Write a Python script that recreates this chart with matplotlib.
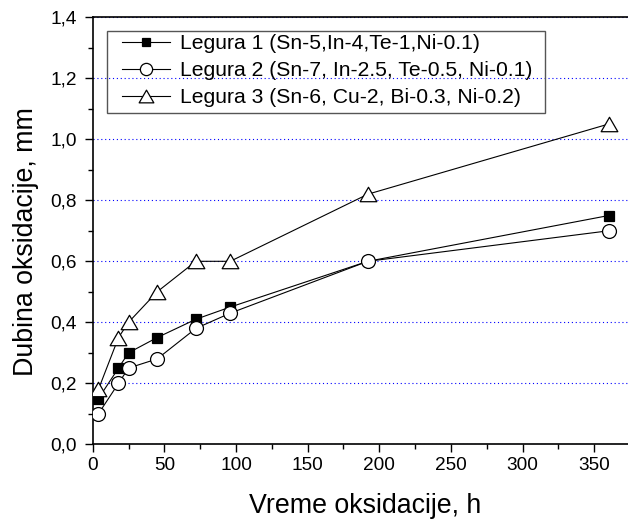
import matplotlib
matplotlib.use("Agg")
import matplotlib.pyplot as plt
from matplotlib.ticker import MultipleLocator, FuncFormatter
from matplotlib.patches import Rectangle
from matplotlib.path import Path

# ---- data ----
time_h = [4, 18, 25, 45, 72, 96, 192, 360]
legura1 = [0.15, 0.25, 0.30, 0.35, 0.41, 0.45, 0.60, 0.75]
legura2 = [0.10, 0.20, 0.25, 0.28, 0.38, 0.43, 0.60, 0.70]
legura3 = [0.18, 0.35, 0.40, 0.50, 0.60, 0.60, 0.82, 1.05]
labels = ["Legura 1 (Sn-5,In-4,Te-1,Ni-0.1)",
          "Legura 2 (Sn-7, In-2.5, Te-0.5, Ni-0.1)",
          "Legura 3 (Sn-6, Cu-2, Bi-0.3, Ni-0.2)"]
xlabel = "Vreme oksidacije, h"
ylabel = "Dubina oksidacije, mm"

plt.rcParams['font.family'] = ['Liberation Sans', 'DejaVu Sans']

W, H = 628, 519
fig = plt.figure(figsize=(W / 100, H / 100), dpi=100)
left_px, right_px, top_px, bot_px = 92.7, 628, 17.3, 444.3
ax = fig.add_axes([left_px / W, 1 - bot_px / H, (right_px - left_px) / W, (bot_px - top_px) / H])

tri = Path([(-1, -0.866), (1, -0.866), (0, 0.866), (-1, -0.866)],
           [Path.MOVETO, Path.LINETO, Path.LINETO, Path.CLOSEPOLY])

lw = 0.8
mew = 0.9
l1, = ax.plot(time_h, legura1, color='black', lw=lw, marker='s', ms=7.2,
              mfc='black', mec='black', mew=mew, zorder=3)
l2, = ax.plot(time_h, legura2, color='black', lw=lw, marker='o', ms=10,
              mfc='white', mec='black', mew=mew, zorder=4)
l3, = ax.plot(time_h, legura3, color='black', lw=lw, marker=tri, ms=12,
              mfc='white', mec='black', mew=mew, zorder=5)

ax.set_xlim(0, (right_px - left_px) / 1.433)
ax.set_ylim(0, 1.4)
ax.xaxis.set_major_locator(MultipleLocator(50))
ax.xaxis.set_minor_locator(MultipleLocator(25))
ax.yaxis.set_major_locator(MultipleLocator(0.2))
ax.yaxis.set_minor_locator(MultipleLocator(0.1))
ax.yaxis.set_major_formatter(FuncFormatter(lambda v, p: f"{v:.1f}".replace('.', ',')))

ax.grid(axis='y', which='major', color='#0000ff', linestyle=(0, (1, 2.5)), lw=0.8, zorder=1)
ax.set_axisbelow(True)

for s in ['left', 'bottom', 'top']:
    ax.spines[s].set_linewidth(1.2)
ax.spines['right'].set_visible(False)

ax.tick_params(axis='both', which='major', direction='out', length=6, width=1.0, labelsize=13.7)
ax.tick_params(axis='both', which='minor', direction='out', length=3.6, width=1.0)
ax.tick_params(axis='x', which='major', pad=3.4)
ax.tick_params(axis='y', which='major', pad=5.5)
ax.tick_params(top=False, right=False, which='both')

ax.set_xlabel(xlabel, fontsize=19.3)
ax.set_ylabel(ylabel, fontsize=19.3)
ax.xaxis.label.set_va('baseline')
ax.yaxis.label.set_va('baseline')
ax.xaxis.set_label_coords((365 - left_px) / (right_px - left_px), (bot_px - 512.7) / (bot_px - top_px))
ax.yaxis.set_label_coords((33.3 - left_px) / (right_px - left_px), (bot_px - 242) / (bot_px - top_px))

# legend
leg = fig.legend([l1, l2, l3], labels, loc='upper left',
                 bbox_to_anchor=(122.3 / W, 1 - 34.0 / H), bbox_transform=fig.transFigure,
                 frameon=False, fontsize=15.2, borderpad=0, borderaxespad=0,
                 labelspacing=0.38, handlelength=2.25, handletextpad=0.5,
                 markerscale=0.88)
fig.patches.append(Rectangle((106.7 / W, 1 - 113.3 / H), (545 - 106.7) / W, (113.3 - 30.7) / H,
                             transform=fig.transFigure, fill=False, edgecolor='#555555',
                             lw=1.0, zorder=6))

fig.savefig('out.png', dpi=100)
